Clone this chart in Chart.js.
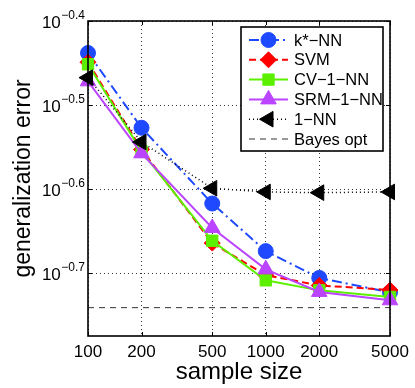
<!DOCTYPE html>
<html><head><meta charset="utf-8">
<script src="https://cdn.jsdelivr.net/npm/chart.js@4"></script>
<style>html,body{margin:0;padding:0;background:#fff;}</style>
</head><body>
<canvas id="c" width="415" height="388" style="display:block;width:415px;height:388px"></canvas>
<script>
// ---- data ----
const sampleSizes = [100, 200, 500, 1000, 2000, 5000];
const xTickValues = [100, 200, 500, 1000, 2000, 5000];
const yTickExponents = [-0.4, -0.5, -0.6, -0.7];
const kStarNN = [0.3647, 0.2972, 0.2415, 0.2120, 0.1970, 0.1894];
const svm     = [0.3556, 0.2801, 0.2167, 0.1985, 0.1930, 0.1906];
const cv1NN   = [0.3536, 0.2786, 0.2181, 0.1957, 0.1904, 0.1870];
const srm1NN  = [0.3375, 0.2771, 0.2259, 0.2017, 0.1896, 0.1853];
const oneNN   = [0.3409, 0.2858, 0.2518, 0.2493, 0.2488, 0.2493];
const bayesOpt = 0.1816;
const seriesNames = ['k*\u2212NN', 'SVM', 'CV\u22121\u2212NN', 'SRM\u22121\u2212NN', '1\u2212NN', 'Bayes opt'];
const yMinExp = -0.7746, yMaxExp = -0.4;

const FONT = "'Liberation Sans', Arial, Helvetica, sans-serif";
const BLUE = '#1f49ff', RED = '#ff0000', GREEN = '#5cf000', PURPLE = '#bb44ff';

function pts(arr){ return sampleSizes.map((x,i)=>({x:x, y:arr[i]})); }

const styles = [
  {color:BLUE,   dash:[10,4,2,4], width:2, shape:'circle',  r:7.5, rot:0},
  {color:RED,    dash:[7,4],      width:2, shape:'rectRot', r:8,   rot:0},
  {color:GREEN,  dash:[],         width:2, shape:'rect',    r:8,   rot:0},
  {color:PURPLE, dash:[],         width:2, shape:'triangle',r:9,   rot:0},
  {color:'#000', dash:[1,3],      width:1.5, shape:'triangle', r:9, rot:-90},
  {color:'#333', dash:[6,5],      width:1, shape:null, r:0, rot:0}
];
const seriesData = [kStarNN, svm, cv1NN, srm1NN, oneNN];

const datasets = seriesData.map((arr,i)=>({
  label: seriesNames[i],
  data: pts(arr),
  borderColor: styles[i].color,
  backgroundColor: styles[i].color,
  borderWidth: styles[i].width,
  borderDash: styles[i].dash,
  pointStyle: styles[i].shape,
  pointRadius: styles[i].r,
  pointRotation: styles[i].rot,
  pointBorderWidth: 1,
  pointBackgroundColor: styles[i].color,
  pointBorderColor: styles[i].color,
  tension: 0,
  clip: false,
  order: 10 - i
}));
datasets.push({
  label: seriesNames[5],
  data: [{x:sampleSizes[0], y:bayesOpt},{x:sampleSizes[sampleSizes.length-1], y:bayesOpt}],
  borderColor: styles[5].color, borderWidth: 1, borderDash: styles[5].dash,
  pointRadius: 0, order: 1, clip: false
});

function drawMarker(ctx, shape, x, y, r, rot, color){
  if(!shape) return;
  ctx.save();
  ctx.fillStyle = color; ctx.strokeStyle = color; ctx.lineWidth = 1; ctx.setLineDash([]);
  ctx.translate(x,y); ctx.rotate(rot*Math.PI/180);
  ctx.beginPath();
  if(shape==='circle'){ ctx.arc(0,0,r,0,Math.PI*2); }
  else if(shape==='rectRot'){ ctx.moveTo(0,-r); ctx.lineTo(r,0); ctx.lineTo(0,r); ctx.lineTo(-r,0); ctx.closePath(); }
  else if(shape==='rect'){ const s=r*Math.SQRT1_2; ctx.rect(-s,-s,2*s,2*s); }
  else if(shape==='triangle'){
    ctx.moveTo(0,-r);
    ctx.lineTo(r*Math.sin(2*Math.PI/3), -r*Math.cos(2*Math.PI/3));
    ctx.lineTo(r*Math.sin(4*Math.PI/3), -r*Math.cos(4*Math.PI/3));
    ctx.closePath();
  }
  ctx.fill(); ctx.stroke();
  ctx.restore();
}

const framePlugin = {
  id: 'frame',
  afterDraw(chart){
    const ctx = chart.ctx, a = chart.chartArea;
    const xs = chart.scales.x, ys = chart.scales.y;
    ctx.save();
    // ticks inside the box
    ctx.strokeStyle = '#000'; ctx.lineWidth = 1; ctx.setLineDash([]);
    ctx.beginPath();
    xTickValues.forEach(v=>{
      const px = Math.round(xs.getPixelForValue(v))+0.5;
      ctx.moveTo(px, a.bottom); ctx.lineTo(px, a.bottom-4);
      ctx.moveTo(px, a.top); ctx.lineTo(px, a.top+4);
    });
    yTickExponents.forEach(e=>{
      const py = Math.round(ys.getPixelForValue(Math.pow(10,e)))+0.5;
      ctx.moveTo(a.left, py); ctx.lineTo(a.left+4, py);
      ctx.moveTo(a.right, py); ctx.lineTo(a.right-4, py);
    });
    ctx.stroke();
    // frame
    ctx.lineWidth = 1.6;
    ctx.strokeRect(a.left, a.top, a.right-a.left, a.bottom-a.top);
    // y tick labels 10^e
    ctx.fillStyle = '#000';
    ctx.textAlign = 'right'; ctx.textBaseline = 'alphabetic';
    yTickExponents.forEach(e=>{
      const py = ys.getPixelForValue(Math.pow(10,e));
      const sup = e.toFixed(1).replace('-', '\u2212');
      ctx.font = '12px ' + FONT;
      const sw = ctx.measureText(sup).width;
      const rightX = a.left - 3;
      ctx.fillText(sup, rightX, py - 2.5);
      ctx.font = '17px ' + FONT;
      ctx.fillText('10', rightX - sw - 0.5, py + 7);
    });
    // legend
    const lx = 241, ly = 27, lw = 142, lh = 124;
    ctx.fillStyle = '#fff';
    ctx.fillRect(lx, ly, lw, lh);
    ctx.strokeStyle = '#000'; ctx.lineWidth = 1.6;
    ctx.strokeRect(lx, ly, lw, lh);
    const rowY0 = 40, rowStep = 19.8;
    seriesNames.forEach((name,i)=>{
      const st = styles[i];
      const y = rowY0 + i*rowStep;
      ctx.save();
      ctx.strokeStyle = st.color; ctx.lineWidth = st.width; ctx.setLineDash(st.dash);
      ctx.beginPath(); ctx.moveTo(249, y); ctx.lineTo(288, y); ctx.stroke();
      ctx.restore();
      drawMarker(ctx, st.shape, 268.5, y, st.r, st.rot, st.color);
      ctx.fillStyle = '#000';
      ctx.font = '16.5px ' + FONT;
      ctx.textAlign = 'left'; ctx.textBaseline = 'middle';
      ctx.fillText(name, 294, y + 1);
    });
    ctx.restore();
  }
};

new Chart(document.getElementById('c'), {
  type: 'line',
  data: { datasets: datasets },
  options: {
    responsive: false,
    animation: false,
    devicePixelRatio: 1,
    layout: { padding: { top: 21, right: 25, left: 0, bottom: 0 } },
    plugins: { legend: { display: false }, tooltip: { enabled: false } },
    scales: {
      x: {
        type: 'logarithmic', min: sampleSizes[0], max: sampleSizes[sampleSizes.length-1],
        afterBuildTicks: s => { s.ticks = xTickValues.map(v => ({ value: v })); },
        afterFit: s => { s.height = 52; },
        grid: { color: 'rgba(0,0,0,0.8)', lineWidth: 1, drawTicks: false },
        border: { display: false, dash: [1, 3] },
        ticks: { color: '#000', font: { family: FONT, size: 17 }, padding: 6, maxRotation: 0, autoSkip: false,
                 callback: v => String(v) },
        title: { display: true, text: 'sample size', color: '#000', font: { family: FONT, size: 24 }, padding: { top: 0, bottom: 1 } }
      },
      y: {
        type: 'logarithmic', min: Math.pow(10, yMinExp), max: Math.pow(10, yMaxExp),
        afterBuildTicks: s => { s.ticks = yTickExponents.map(e => ({ value: Math.pow(10, e) })); },
        afterFit: s => { s.width = 88; },
        grid: { color: 'rgba(0,0,0,0.8)', lineWidth: 1, drawTicks: false },
        border: { display: false, dash: [1, 3] },
        ticks: { display: false },
        title: { display: true, text: 'generalization error', color: '#000', font: { family: FONT, size: 23 }, padding: { top: 10, bottom: 0 } }
      }
    }
  },
  plugins: [framePlugin]
});
</script>
</body></html>
